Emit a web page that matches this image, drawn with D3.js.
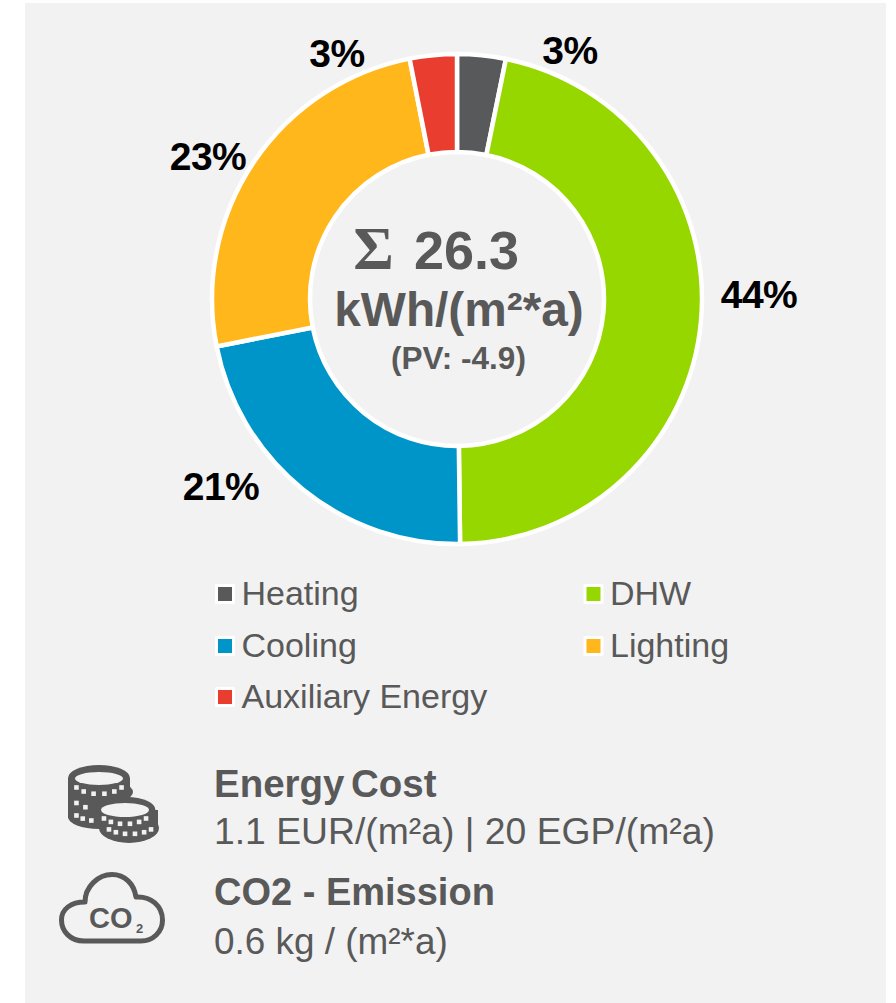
<!DOCTYPE html>
<html><head><meta charset="utf-8">
<script src="https://cdn.jsdelivr.net/npm/d3@7/dist/d3.min.js"></script>
<style>html,body{margin:0;padding:0;background:#fff}svg{display:block}text{font-family:"Liberation Sans",Arial,sans-serif}</style>
</head><body><svg id="c" width="896" height="1003"></svg>
<script>
const categories=["Heating","DHW","Cooling","Lighting","Auxiliary Energy"];
const shares=[3.2,46.6,22.1,25.0,3.1];
const percentLabels=["3%","44%","21%","23%","3%"];
const colors=["#58595b","#97d700","#0095c8","#ffb71b","#e83d2f"];
const labelPos=[[570,51],[759,295],[221,487],[208,157],[337,54]];
const legendPos=[[225,594],[593.5,594],[225,646],[593.5,646],[225,697]];
const grey="#595959",bg="#f2f2f2";
const svg=d3.select("#c");
svg.append("rect").attr("x",25).attr("y",3).attr("width",861).attr("height",1000).attr("fill",bg);
const cx=457,cy=299;
const g=svg.append("g").attr("transform",`translate(${cx},${cy})`);
const pie=d3.pie().sort(null)(shares);
const arc=d3.arc().innerRadius(147).outerRadius(245);
g.selectAll("path").data(pie).join("path").attr("d",arc).attr("fill",(d,i)=>colors[i]).attr("stroke","#fff").attr("stroke-width",4.5);
svg.selectAll("text.pct").data(percentLabels).join("text").attr("class","pct")
 .attr("x",(d,i)=>labelPos[i][0]).attr("y",(d,i)=>labelPos[i][1]+13).attr("text-anchor","middle")
 .attr("font-size",39).attr("font-weight",700).attr("fill","#000").attr("letter-spacing",-0.5).text(d=>d);
const T=(x,y,s,size,w,a,fam)=>{const t=svg.append("text").attr("x",x).attr("y",y).attr("font-size",size).attr("font-weight",w).attr("fill",grey).attr("text-anchor",a||"start").text(s);if(fam)t.style("font-family",fam);return t;};
T(373.5,269,"Σ",62,700,"middle","'Liberation Serif'");
T(414,269,"26.3",54,700);
T(459,326,"kWh/(m²*a)",47.8,700,"middle");
T(458.5,369,"(PV: -4.9)",31.5,700,"middle");
legendPos.forEach((p,i)=>{
 svg.append("rect").attr("x",p[0]-10).attr("y",p[1]-10).attr("width",20).attr("height",20).attr("fill","#fff").attr("rx",1.5);
 svg.append("rect").attr("x",p[0]-7).attr("y",p[1]-7).attr("width",14).attr("height",14).attr("fill",colors[i]);
 T(p[0]+16.5,p[1]+11,categories[i],34,400);
});
T(214,797,"Energy",38.5,700);T(351,797,"Cost",38.5,700);
T(214,844,"1.1 EUR/(m²a) | 20 EGP/(m²a)",37.3,400);
T(214,905,"CO2 - Emission",38,700);
T(214,954,"0.6 kg / (m²*a)",36.9,400);
const ell=(x,y,rx,ry,f)=>svg.append("ellipse").attr("cx",x).attr("cy",y).attr("rx",rx).attr("ry",ry).attr("fill",f);
const body=(x0,x1,y0,y1)=>svg.append("rect").attr("x",x0).attr("y",y0).attr("width",x1-x0).attr("height",y1-y0).attr("fill",grey);
const ticks=(x,y,rx,ry,t0,t1,n)=>d3.range(n).forEach(i=>{
 const t=t0+(t1-t0)*i/(n-1);
 svg.append("rect").attr("x",x+rx*Math.sin(t)-2.3).attr("y",y+ry*Math.cos(t)-2.3).attr("width",4.6).attr("height",4.6).attr("fill",bg);
});
body(68,130,778,818);ell(99,778,31,13,grey);ell(99,817,31,12,grey);ell(103,792,30,12,grey);
ell(99,778.5,24,6.5,bg);
ticks(99,781,26,13,-1.05,1.05,6);
ticks(99,797,26,12,-1.05,-0.55,2);
ticks(99,810,26,11,-1.05,-0.3,3);
body(99,158,810,828);ell(127,810,28.5,13,grey);ell(129,828,30,15,grey);
ell(125,810,24,7,bg);
ticks(125,812,25,12,-1,1,6);
ticks(130,824,25,10,-1,1,6);
svg.append("path").attr("d","M84,941 C70,941 61.5,931 61.5,920 C61.5,909 71,902 85,902 C85,887 98,874.5 112,874.5 C125,874.5 134,884 136,897 C151,896 162.5,906 162.5,920 C162.5,932 153,941 141,941 Z")
 .attr("fill","none").attr("stroke",grey).attr("stroke-width",5).attr("stroke-linejoin","round");
svg.append("text").attr("x",89).attr("y",928).attr("font-size",29).attr("font-weight",700).attr("fill",grey).text("CO");
svg.append("text").attr("x",136).attr("y",933).attr("font-size",13).attr("font-weight",700).attr("fill",grey).text("2");
</script></body></html>
